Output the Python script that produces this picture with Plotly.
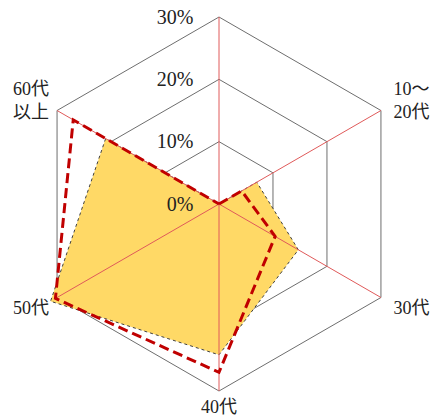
import plotly.graph_objects as go

# Age-group categories, clockwise from the top spoke (top spoke has no label)
categories = [" ", "&nbsp;&nbsp;10〜<br>&nbsp;&nbsp;20代", "&nbsp;&nbsp;30代", "40代",
              "50代&nbsp;", "60代&nbsp;<br>以上&nbsp;"]

# Shares (%) per age group
series_a = [0, 7.0, 14.7, 24.2, 31.2, 21.0]   # filled series
series_b = [0, 4.2, 10.4, 27.0, 30.3, 27.0]   # dashed series

radial_ticks = [0, 10, 20, 30]
radial_tick_text = ["0%", "10%", "20%", "30%"]
r_max = 30        # outer ring of the grid
r_data_max = 32   # room for values just beyond the outer ring

SERIF = "Liberation Serif, Noto Sans CJK JP, serif"

W, H = 433, 420
cx, cy, rad = 219, 204, 187          # centre and outer-ring radius in px
rad_data = rad * r_data_max / r_max  # same px-per-% scale for the data layer


def domain(radius):
    return dict(
        x=[(cx - radius) / W, (cx + radius) / W],
        y=[1 - (cy + radius) / H, 1 - (cy - radius) / H],
    )


fig = go.Figure()

# Grid subplot needs a trace of its own to be drawn
fig.add_trace(go.Scatterpolar(
    r=[0] * len(categories),
    theta=categories,
    subplot="polar",
    mode="markers",
    marker=dict(size=1, opacity=0),
    hoverinfo="skip",
    showlegend=False,
))

# Filled series
fig.add_trace(go.Scatterpolar(
    r=series_a + [series_a[0]],
    theta=categories + [categories[0]],
    subplot="polar2",
    mode="lines",
    fill="toself",
    fillcolor="#FFD966",
    line=dict(color="#404040", width=1, dash="dot"),
    hoverinfo="skip",
    showlegend=False,
))

# Red spokes drawn over the fill
spoke_r, spoke_t = [], []
for c in categories:
    spoke_r += [0, r_max, None]
    spoke_t += [c, c, None]
fig.add_trace(go.Scatterpolar(
    r=spoke_r,
    theta=spoke_t,
    subplot="polar2",
    mode="lines",
    line=dict(color="#E05A5A", width=1),
    connectgaps=False,
    hoverinfo="skip",
    showlegend=False,
))

# Dashed series
fig.add_trace(go.Scatterpolar(
    r=series_b + [series_b[0]],
    theta=categories + [categories[0]],
    subplot="polar2",
    mode="lines",
    line=dict(color="#C00000", width=3, dash="10px,5px"),
    hoverinfo="skip",
    showlegend=False,
))

angular_common = dict(
    type="category",
    categoryarray=categories,
    direction="clockwise",
    rotation=90,
    showgrid=False,
    ticks="",
)

fig.update_layout(
    width=W,
    height=H,
    margin=dict(l=0, r=0, t=0, b=0),
    paper_bgcolor="white",
    plot_bgcolor="white",
    showlegend=False,
    # grid, outer ring and category labels
    polar=dict(
        domain=domain(rad),
        bgcolor="white",
        gridshape="linear",
        angularaxis=dict(
            **angular_common,
            showline=True,
            linecolor="#6E6E6E",
            linewidth=1,
            tickfont=dict(family=SERIF, size=18, color="#222222"),
        ),
        radialaxis=dict(
            range=[0, r_max],
            tickmode="array",
            tickvals=radial_ticks,
            showticklabels=False,
            showline=False,
            showgrid=True,
            gridcolor="#6E6E6E",
            gridwidth=1,
            ticks="",
        ),
    ),
    # data layer on the same scale, with a slightly larger extent;
    # its radial tick labels sit above the traces
    polar2=dict(
        domain=domain(rad_data),
        bgcolor="rgba(0,0,0,0)",
        gridshape="linear",
        angularaxis=dict(
            **angular_common,
            showline=False,
            showticklabels=False,
        ),
        radialaxis=dict(
            range=[0, r_data_max],
            tickmode="array",
            tickvals=radial_ticks,
            ticktext=radial_tick_text,
            angle=90,
            side="counterclockwise",
            tickangle=90,
            layer="above traces",
            showline=False,
            showgrid=False,
            ticks="outside",
            ticklen=18,
            tickcolor="rgba(0,0,0,0)",
            tickfont=dict(family=SERIF, size=20, color="#222222"),
        ),
    ),
)

fig.write_html("out.html")
